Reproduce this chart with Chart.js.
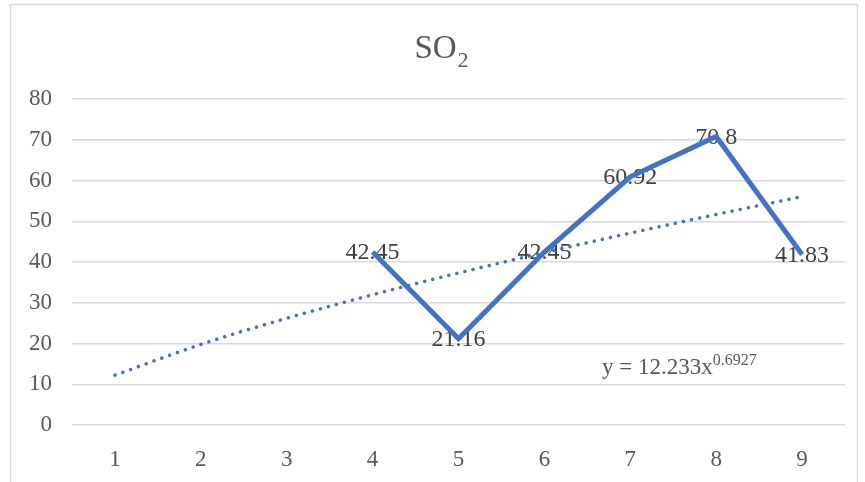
<!DOCTYPE html>
<html>
<head>
<meta charset="utf-8">
<script src="https://cdn.jsdelivr.net/npm/chart.js@4/dist/chart.umd.min.js"></script>
<style>
  html, body { margin: 0; padding: 0; background: #ffffff; }
  #wrap { width: 865px; height: 482px; position: relative; }
</style>
</head>
<body>
<div id="wrap"><canvas id="chart" width="865" height="482"></canvas></div>
<script>
// SO2 readings by sample number
const categories = ['1', '2', '3', '4', '5', '6', '7', '8', '9'];
const so2Values = [null, null, null, 42.45, 21.16, 42.45, 60.92, 70.8, 41.83];
// power trendline y = 12.233x^0.6927 evaluated at each sample
const trendValues = [12.23, 19.77, 26.19, 31.96, 37.30, 42.32, 47.09, 51.66, 56.05];
const yTicks = { min: 0, max: 80, step: 10 };

const SERIF = '"Liberation Serif", "Times New Roman", serif';
const TEXT_GREY = '#595959';
const LABEL_GREY = '#404040';
const BLUE = '#4472C4';

// frame around the chart
const framePlugin = {
  id: 'frame',
  beforeDraw(chart) {
    const ctx = chart.ctx;
    ctx.save();
    ctx.strokeStyle = '#d9d9d9';
    ctx.lineWidth = 1.5;
    ctx.strokeRect(10.5, 4.5, 847, 500);
    ctx.restore();
  }
};

// title with subscript and trendline equation with superscript
const textPlugin = {
  id: 'texts',
  afterDraw(chart) {
    const ctx = chart.ctx;
    ctx.save();
    ctx.fillStyle = TEXT_GREY;
    ctx.textAlign = 'left';
    ctx.textBaseline = 'alphabetic';
    // title
    ctx.font = '33px ' + SERIF;
    const so = 'SO';
    const wSo = ctx.measureText(so).width;
    ctx.font = '22px ' + SERIF;
    const w2 = ctx.measureText('2').width;
    const tx = 441 - (wSo + w2) / 2;
    ctx.font = '33px ' + SERIF;
    ctx.fillText(so, tx, 58);
    ctx.font = '22px ' + SERIF;
    ctx.fillText('2', tx + wSo + 1, 67);
    // equation
    const ex = 602, ey = 374;
    ctx.font = '23px ' + SERIF;
    const base = 'y = 12.233x';
    ctx.fillText(base, ex, ey);
    const wb = ctx.measureText(base).width;
    ctx.font = '16px ' + SERIF;
    ctx.fillText('0.6927', ex + wb, ey - 9);
    ctx.restore();
  }
};

// value labels centred on each point, beneath the line
const valueLabelPlugin = {
  id: 'valueLabels',
  beforeDatasetsDraw(chart) {
    const ctx = chart.ctx;
    const meta = chart.getDatasetMeta(0);
    const ds = chart.data.datasets[0];
    ctx.save();
    ctx.font = '24px ' + SERIF;
    ctx.fillStyle = LABEL_GREY;
    ctx.textAlign = 'center';
    ctx.textBaseline = 'middle';
    meta.data.forEach((pt, i) => {
      const v = ds.data[i];
      if (v === null || v === undefined) return;
      ctx.fillText(String(v), pt.x, pt.y + 1);
    });
    ctx.restore();
  }
};

new Chart(document.getElementById('chart'), {
  type: 'line',
  data: {
    labels: categories,
    datasets: [
      {
        label: 'SO2',
        data: so2Values,
        borderColor: BLUE,
        borderWidth: 5,
        borderJoinStyle: 'miter',
        borderCapStyle: 'butt',
        pointRadius: 0,
        pointHoverRadius: 0,
        fill: false,
        spanGaps: false,
        tension: 0,
        order: 1
      },
      {
        label: 'Power trend',
        data: trendValues,
        borderColor: BLUE,
        borderWidth: 3.5,
        borderDash: [0.1, 8.2],
        borderCapStyle: 'round',
        pointRadius: 0,
        pointHoverRadius: 0,
        fill: false,
        cubicInterpolationMode: 'monotone',
        order: 2
      }
    ]
  },
  options: {
    responsive: false,
    animation: false,
    devicePixelRatio: 1,
    layout: { padding: { top: 99, right: 20, bottom: 0, left: 0 } },
    plugins: {
      legend: { display: false },
      title: { display: false },
      tooltip: { enabled: false }
    },
    scales: {
      x: {
        type: 'category',
        offset: true,
        grid: { display: false },
        border: { display: false },
        ticks: {
          color: TEXT_GREY,
          font: { family: SERIF, size: 23 },
          padding: 13,
          maxRotation: 0
        },
        afterFit(scale) { scale.height = 57; }
      },
      y: {
        min: yTicks.min,
        max: yTicks.max,
        grid: { color: '#d9d9d9', lineWidth: 1.5, drawTicks: false },
        border: { display: false },
        ticks: {
          stepSize: yTicks.step,
          color: TEXT_GREY,
          font: { family: SERIF, size: 23 },
          padding: 20
        },
        afterFit(scale) { scale.width = 72; }
      }
    }
  },
  plugins: [framePlugin, valueLabelPlugin, textPlugin]
});
</script>
</body>
</html>
